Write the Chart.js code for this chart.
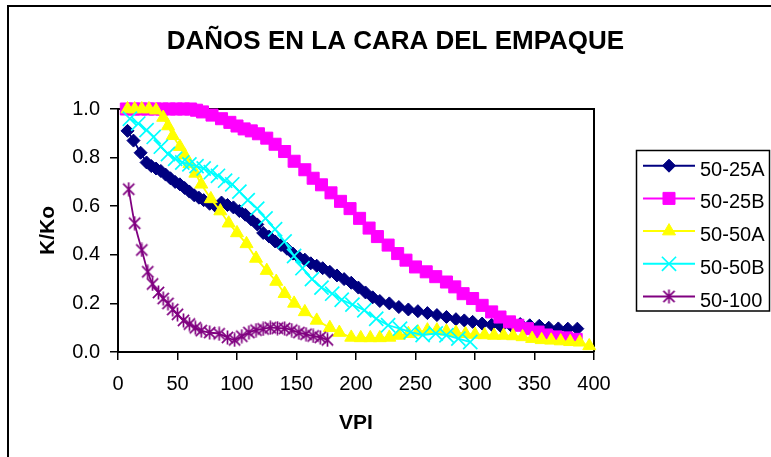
<!DOCTYPE html>
<html><head><meta charset="utf-8">
<script src="https://cdn.jsdelivr.net/npm/chart.js"></script>
<style>html,body{margin:0;padding:0;background:#fff;overflow:hidden}canvas{display:block}</style>
</head><body>
<canvas id="c" width="771" height="457"></canvas>
<script>
// ---- data ----
const chartTitle = 'DAÑOS EN LA CARA DEL EMPAQUE';
const xTitle = 'VPI';
const yTitle = 'K/Ko';
const seriesNames = ['50-25A', '50-25B', '50-50A', '50-50B', '50-100'];
const xTickValues = [0, 50, 100, 150, 200, 250, 300, 350, 400];
const yTickValues = [0, 0.2, 0.4, 0.6, 0.8, 1.0];

const vpi25A = [8,13,19,24,28,32,36,40,44,48,52,56,60,64,68,72,77,82,87,92,97,102,107,112,117,122,127,132,137,142,147,152,157,162,167,172,178,184,190,196,202,208,214,220,228,236,244,252,260,268,276,284,291,298,306,314,322,330,338,346,354,362,370,378,386];
const k25A   = [0.91,0.87,0.82,0.78,0.765,0.755,0.745,0.73,0.715,0.70,0.69,0.675,0.66,0.645,0.635,0.625,0.61,0.60,0.615,0.605,0.595,0.58,0.565,0.545,0.525,0.49,0.475,0.455,0.44,0.425,0.405,0.39,0.38,0.365,0.355,0.345,0.33,0.315,0.30,0.285,0.265,0.245,0.225,0.21,0.20,0.185,0.175,0.168,0.16,0.152,0.144,0.135,0.13,0.124,0.117,0.112,0.105,0.11,0.115,0.11,0.108,0.10,0.097,0.096,0.096];

const vpi25B = [7,13,19,25,31,37,43,49,55,61,66,71,79,87,94,100,106,112,118,125,132,140,148,157,164,171,179,187,195,203,211,218,227,235,242,250,259,267,276,283,290,298,306,314,321,329,336,344,353,360,368,377,385];
const k25B   = [1.0,1.0,1.0,1.0,1.0,1.0,1.0,1.0,1.0,1.0,0.995,0.988,0.975,0.96,0.945,0.93,0.918,0.91,0.898,0.88,0.855,0.825,0.785,0.75,0.715,0.688,0.655,0.62,0.59,0.55,0.51,0.475,0.44,0.405,0.378,0.35,0.33,0.31,0.288,0.268,0.24,0.22,0.192,0.165,0.144,0.124,0.11,0.096,0.082,0.07,0.062,0.058,0.052];

const vpi50A = [8,14,20,26,32,38,42,46,52,56,60,65,70,78,86,93,100,108,116,125,133,140,148,157,167,178,186,196,204,212,220,228,236,244,252,260,268,276,284,292,300,308,316,324,332,340,348,356,364,372,380,388,396];
const k50A   = [1.0,1.0,1.0,1.0,0.995,0.965,0.93,0.89,0.845,0.81,0.775,0.735,0.69,0.63,0.58,0.53,0.49,0.445,0.385,0.335,0.29,0.24,0.20,0.165,0.13,0.10,0.08,0.06,0.058,0.058,0.058,0.06,0.068,0.075,0.082,0.09,0.09,0.085,0.08,0.075,0.072,0.07,0.068,0.068,0.066,0.062,0.055,0.05,0.048,0.045,0.042,0.04,0.025];

const vpi50B = [10,17,24,30,36,42,48,54,60,66,72,78,84,90,96,102,109,117,124,132,140,148,155,163,171,180,188,197,207,217,227,237,246,256,267,276,286,296];
const k50B   = [0.96,0.94,0.913,0.885,0.845,0.815,0.795,0.78,0.772,0.765,0.755,0.74,0.725,0.705,0.69,0.66,0.625,0.59,0.55,0.505,0.455,0.395,0.345,0.30,0.265,0.24,0.215,0.195,0.172,0.137,0.11,0.096,0.082,0.07,0.076,0.069,0.055,0.041];

const vpi100 = [9,14,20,25,29,34,38,42,46,50,55,60,65,70,77,85,92,98,104,110,116,122,128,134,140,146,152,158,164,170,176];
const k100   = [0.67,0.53,0.42,0.33,0.28,0.245,0.22,0.20,0.175,0.155,0.13,0.115,0.10,0.088,0.08,0.075,0.06,0.05,0.065,0.08,0.09,0.095,0.10,0.098,0.097,0.09,0.08,0.073,0.066,0.06,0.05];

// ---- helpers ----
function pts(xs, ys) { return xs.map((x, i) => ({ x: x, y: ys[i] })); }
function makeAsterisk(color, size, lw) {
  const c = document.createElement('canvas');
  c.width = size; c.height = size;
  const g = c.getContext('2d');
  g.strokeStyle = color; g.lineWidth = lw;
  const m = size / 2, r = size / 2 - 0.5, d = r * 0.8;
  g.beginPath();
  g.moveTo(m, m - r); g.lineTo(m, m + r);
  g.moveTo(m - d, m - d); g.lineTo(m + d, m + d);
  g.moveTo(m - d, m + d); g.lineTo(m + d, m - d);
  g.stroke();
  return c;
}
const asterisk = makeAsterisk('#800080', 15, 1.7);
const FONT = '"Liberation Sans", Arial, sans-serif';
Chart.defaults.font.family = FONT;
Chart.defaults.color = '#000';

function ds(i, xs, ys, color, style, radius, extra) {
  return Object.assign({
    label: seriesNames[i], data: pts(xs, ys),
    borderColor: color, backgroundColor: color, borderWidth: 1.8,
    pointStyle: style, pointRadius: radius, pointHoverRadius: radius,
    pointBackgroundColor: color, pointBorderColor: color, pointBorderWidth: 1,
    tension: 0, clip: false, order: 5 - i
  }, extra || {});
}

const datasets = [
  ds(0, vpi25A, k25A, '#000080', 'rectRot', 6.5),
  ds(1, vpi25B, k25B, '#FF00FF', 'rect', 8.5),
  ds(2, vpi50A, k50A, '#FFFF00', 'triangle', 7.5),
  ds(3, vpi50B, k50B, '#00FFFF', 'crossRot', 10, { pointBorderWidth: 1.7 }),
  ds(4, vpi100, k100, '#800080', asterisk, 7.5, { tension: 0.3 })
];

function drawMarker(ctx, d, x, y) {
  ctx.save();
  ctx.fillStyle = d.pointBackgroundColor;
  ctx.strokeStyle = d.pointBorderColor;
  ctx.lineWidth = d.pointBorderWidth;
  if (Chart.helpers && Chart.helpers.drawPoint) {
    Chart.helpers.drawPoint(ctx, { pointStyle: d.pointStyle, radius: d.pointRadius, rotation: 0, borderWidth: d.pointBorderWidth }, x, y);
  }
  ctx.restore();
}

const framePlugin = {
  id: 'frame',
  beforeDraw(chart) {
    const ctx = chart.ctx;
    ctx.save();
    ctx.fillStyle = '#fff';
    ctx.fillRect(0, 0, chart.width, chart.height);
    ctx.strokeStyle = '#000'; ctx.lineWidth = 2;
    ctx.strokeRect(8, 6, chart.width + 20, chart.height + 20);
    ctx.restore();
  },
  beforeDatasetsDraw(chart) {
    const a = chart.chartArea, ctx = chart.ctx;
    ctx.save();
    ctx.strokeStyle = '#000'; ctx.lineWidth = 2;
    ctx.beginPath();
    ctx.moveTo(a.left, a.top); ctx.lineTo(a.right, a.top); ctx.lineTo(a.right, a.bottom);
    ctx.stroke();
    ctx.restore();
  },
  afterDraw(chart) {
    const ctx = chart.ctx;
    ctx.save();
    // title
    ctx.fillStyle = '#000';
    ctx.font = 'bold 26px ' + FONT;
    ctx.textAlign = 'center'; ctx.textBaseline = 'alphabetic';
    ctx.fillText(chartTitle, 395.5, 49);
    // legend
    ctx.strokeStyle = '#000'; ctx.lineWidth = 1.5;
    ctx.strokeRect(636.5, 150.5, 133, 160.5);
    chart.data.datasets.forEach((d, i) => {
      const y = 165.7 + i * 32.7;
      ctx.strokeStyle = d.borderColor; ctx.lineWidth = 2;
      ctx.beginPath(); ctx.moveTo(643, y); ctx.lineTo(695, y); ctx.stroke();
      drawMarker(ctx, d, 669, y);
      ctx.fillStyle = '#000';
      ctx.font = '20px ' + FONT;
      ctx.textAlign = 'left'; ctx.textBaseline = 'alphabetic';
      ctx.fillText(d.label, 700, y + 10);
    });
    ctx.restore();
  }
};

const axisCommon = {
  type: 'linear',
  grid: { drawOnChartArea: false, drawTicks: true, tickLength: 8, color: '#000', lineWidth: 1.5 },
  border: { display: true, color: '#000', width: 2 },
};

new Chart(document.getElementById('c'), {
  type: 'line',
  data: { datasets: datasets },
  options: {
    responsive: false, animation: false, devicePixelRatio: 1,
    layout: { padding: { left: 0, right: 177, top: 109, bottom: 0 } },
    plugins: { legend: { display: false }, title: { display: false }, tooltip: { enabled: false } },
    events: [],
    scales: {
      x: Object.assign({}, axisCommon, {
        min: 0, max: 400,
        afterBuildTicks(s) { s.ticks = xTickValues.map(v => ({ value: v })); },
        afterFit(s) { s.height = 105; },
        ticks: { color: '#000', font: { size: 20 }, padding: 12, maxRotation: 0, autoSkip: false, callback: v => String(v) },
        title: { display: true, text: xTitle, color: '#000', font: { size: 21, weight: 'bold' }, padding: { top: 0, bottom: 21 } }
      }),
      y: Object.assign({}, axisCommon, {
        min: 0, max: 1,
        afterBuildTicks(s) { s.ticks = yTickValues.map(v => ({ value: v })); },
        afterFit(s) { s.width = 118; },
        ticks: { color: '#000', font: { size: 20 }, padding: 10, autoSkip: false, callback: v => Number(v).toFixed(1) },
        title: { display: true, text: yTitle, color: '#000', font: { size: 21, weight: 'bold' }, padding: { top: 36, bottom: 0 } }
      })
    }
  },
  plugins: [framePlugin]
});
</script>
</body></html>
